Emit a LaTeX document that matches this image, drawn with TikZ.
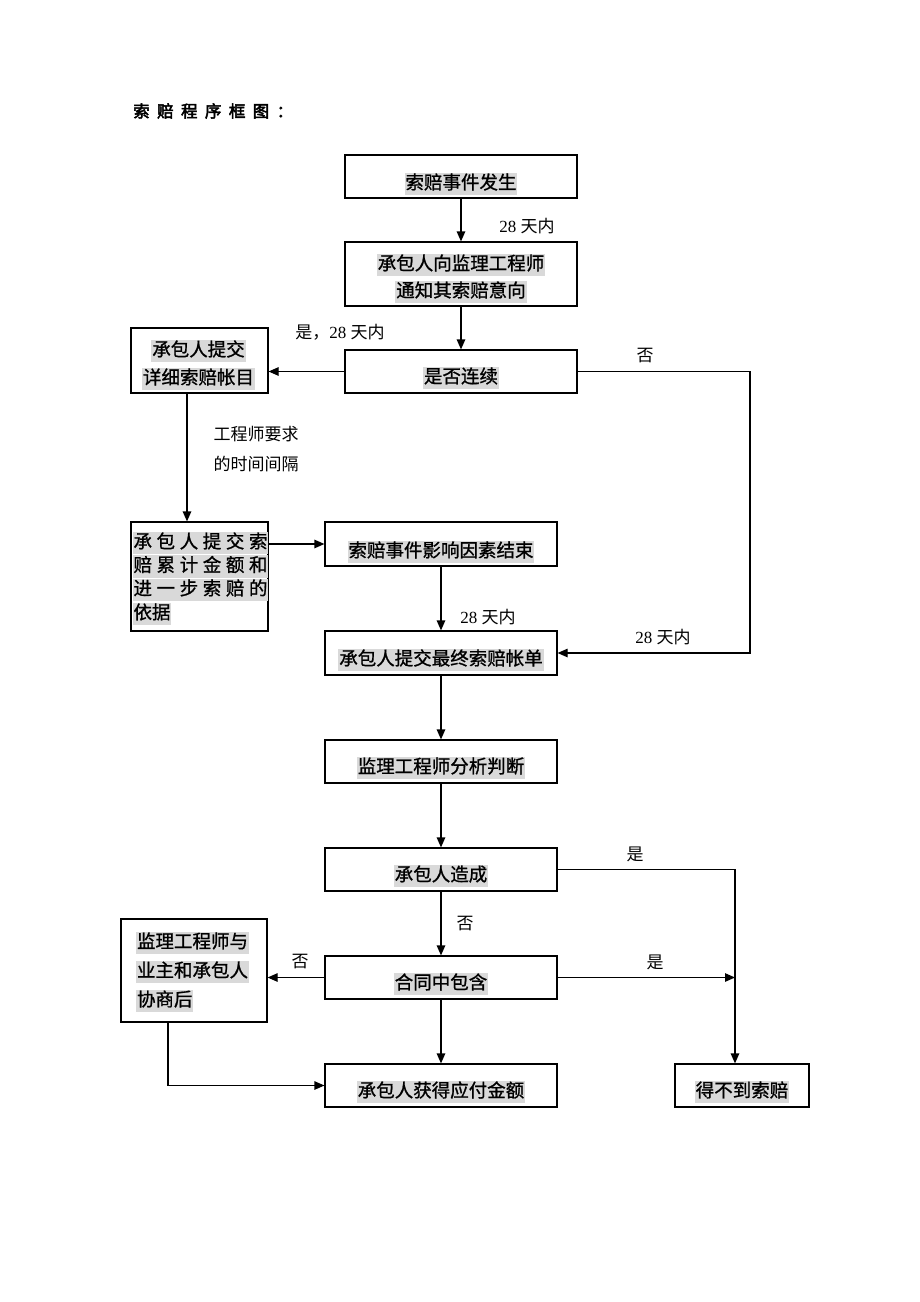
\documentclass[tikz,border=0pt]{standalone}
\usepackage{fontspec}
\setmainfont{Liberation Serif}
\newfontfamily\hei{Noto Sans CJK SC}
\newfontfamily\heib{Noto Sans CJK SC}[FakeBold=1]
\newfontfamily\titlefont{Noto Sans CJK SC}[LetterSpace=45,FakeBold=3]
\usetikzlibrary{arrows.meta}
\definecolor{hl}{HTML}{D9D9D9}
\newcommand{\hlt}[1]{{\setlength{\fboxsep}{0.8pt}\colorbox{hl}{\strut #1}}}
\newcommand{\jline}[1]{\makebox[134pt][s]{#1}}
\begin{document}
\begin{tikzpicture}[x=1pt,y=-1pt,
  box/.style={draw, line width=1.2pt, inner sep=0pt},
  txt/.style={font=\heib\fontsize{18.5}{18.5}\selectfont, inner sep=0pt},
  lab/.style={font=\fontsize{17}{17}\selectfont, inner sep=1pt},
  arr/.style={line width=1.2pt, -{Triangle[length=10pt,width=8.5pt]}},
  ln/.style={line width=1.2pt}]
\useasboundingbox[fill=white] (0,0) rectangle (920,1302);

% title
\node[anchor=west, inner sep=0pt, font=\titlefont\fontsize{16.5}{16.5}\selectfont] (title) at (133,111) {索赔程序框图：};

% boxes
\node[box, minimum width=232pt, minimum height=43pt] (b1) at (461,176.5) {};
\node[box, minimum width=232pt, minimum height=64pt] (b2) at (461,274) {};
\node[box, minimum width=232pt, minimum height=43pt] (b3) at (461,371.5) {};
\node[box, minimum width=137pt, minimum height=65pt] (b4) at (199.5,360.5) {};
\node[box, minimum width=137pt, minimum height=109pt] (b5) at (199.5,576.5) {};
\node[box, minimum width=232pt, minimum height=44pt] (b6) at (441,544) {};
\node[box, minimum width=232pt, minimum height=44pt] (b7) at (441,653) {};
\node[box, minimum width=232pt, minimum height=43pt] (b8) at (441,761.5) {};
\node[box, minimum width=232pt, minimum height=43pt] (b9) at (441,869.5) {};
\node[box, minimum width=232pt, minimum height=43pt] (b10) at (441,977.5) {};
\node[box, minimum width=146pt, minimum height=103pt] (b11) at (194,970.5) {};
\node[box, minimum width=232pt, minimum height=43pt] (b12) at (441,1085.5) {};
\node[box, minimum width=134pt, minimum height=43pt] (b13) at (742,1085.5) {};

% box texts
\node[txt] (t1) at (461,184) {\hlt{索赔事件发生}};
\node[txt] (t2a) at (461,265) {\hlt{承包人向监理工程师}};
\node[txt] (t2b) at (461,292) {\hlt{通知其索赔意向}};
\node[txt] (t3) at (461,378) {\hlt{是否连续}};
\node[txt] (t4a) at (198.5,351) {\hlt{承包人提交}};
\node[txt] (t4b) at (198.5,379) {\hlt{详细索赔帐目}};
\node[txt, anchor=west] (t5a) at (132.5,543) {\hlt{\jline{承\hfill 包\hfill 人\hfill 提\hfill 交\hfill 索}}};
\node[txt, anchor=west] (t5b) at (132.5,566.5) {\hlt{\jline{赔\hfill 累\hfill 计\hfill 金\hfill 额\hfill 和}}};
\node[txt, anchor=west] (t5c) at (132.5,590) {\hlt{\jline{进\hfill 一\hfill 步\hfill 索\hfill 赔\hfill 的}}};
\node[txt, anchor=west] (t5d) at (132.5,614) {\hlt{依据}};
\node[txt] (t6) at (441,552) {\hlt{索赔事件影响因素结束}};
\node[txt] (t7) at (441,660) {\hlt{承包人提交最终索赔帐单}};
\node[txt] (t8) at (441,768) {\hlt{监理工程师分析判断}};
\node[txt] (t9) at (441,876) {\hlt{承包人造成}};
\node[txt] (t10) at (441,984) {\hlt{合同中包含}};
\node[txt, anchor=west] (t11a) at (136,943) {\hlt{监理工程师与}};
\node[txt, anchor=west] (t11b) at (136,972) {\hlt{业主和承包人}};
\node[txt, anchor=west] (t11c) at (136,1001) {\hlt{协商后}};
\node[txt] (t12) at (441,1092) {\hlt{承包人获得应付金额}};
\node[txt] (t13) at (742,1092) {\hlt{得不到索赔}};

% connector helper coordinates
\coordinate (rc) at (750,653);
\coordinate (rj) at (735,977.5);

% connectors
\draw[arr] (b1) -- (b2);
\draw[arr] (b2) -- (b3);
\draw[arr] (b3.west) -- (b3.west -| b4.east);
\draw[arr] (b3.east) -| (rc) -- (b7.east);
\draw[arr] ([xshift=-12.5pt]b4.south) -- ([xshift=-12.5pt]b5.north);
\draw[arr] (b5.east |- b6.west) -- (b6.west);
\draw[arr] (b6) -- (b7);
\draw[arr] (b7) -- (b8);
\draw[arr] (b8) -- (b9);
\draw[arr] (b9) -- (b10);
\draw[arr] (b9.east) -| ([xshift=-7pt]b13.north);
\draw[arr] (b10.east) -- (rj);
\draw[arr] (b10.west) -- (b10.west -| b11.east);
\draw[arr] (b10) -- (b12);
\draw[arr] ([xshift=-26pt]b11.south) |- (b12.west);

% labels
\node[lab] (l1) at (527,226) {28 {\hei 天内}};
\node[lab] (l2) at (340,332) {{\hei 是，}28 {\hei 天内}};
\node[lab] (l3) at (645,356) {\hei 否};
\node[lab] (l4a) at (256,434) {\hei 工程师要求};
\node[lab] (l4b) at (256,464) {\hei 的时间间隔};
\node[lab] (l5) at (488,617) {28 {\hei 天内}};
\node[lab] (l6) at (663,637) {28 {\hei 天内}};
\node[lab] (l7) at (635,854) {\hei 是};
\node[lab] (l8) at (465,924) {\hei 否};
\node[lab] (l9) at (655,962) {\hei 是};
\node[lab] (l10) at (300,962) {\hei 否};
\end{tikzpicture}
\end{document}
